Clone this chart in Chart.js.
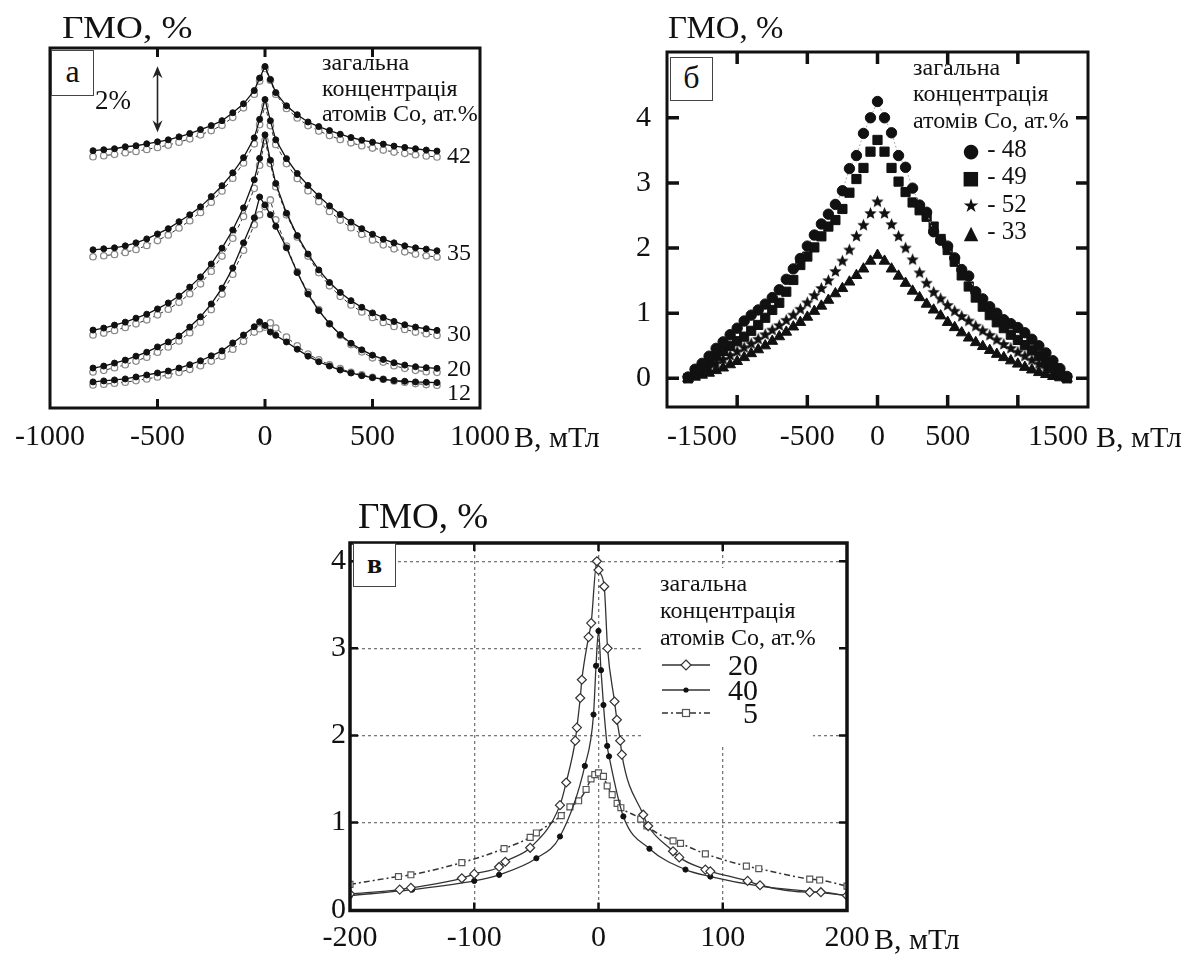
<!DOCTYPE html>
<html>
<head>
<meta charset="utf-8">
<title>ГМО</title>
<script src="https://cdn.jsdelivr.net/npm/chart.js"></script>
<style>
  body { margin: 0; background: #fff; }
  .page { position: relative; width: 1204px; height: 958px; overflow: hidden;
          font-family: 'Liberation Serif', 'Times New Roman', serif; color: #111; }
  canvas { position: absolute; }
  .t { position: absolute; white-space: nowrap; line-height: 1; transform: translateY(-50%); }
  .ttl { font-size: 31px; transform: translateY(-50%) scaleX(1.2); transform-origin: left center; }
  .leg { font-size: 24px; }
  .num { font-size: 24px; }
  .axn { font-size: 30px; }
  .lbl { position: absolute; border: 1px solid #444; background: #fff; text-align: center; }
  .sym { font-family: 'DejaVu Sans', sans-serif; font-size: 19px; display: inline-block; width: 20px; text-align: center; }
</style>
</head>
<body>
<div class="page">
  <canvas id="chartA" width="600" height="470" style="left:0;top:0"></canvas>
  <canvas id="chartB" width="604" height="470" style="left:600px;top:0"></canvas>
  <canvas id="chartC" width="660" height="458" style="left:280px;top:500px"></canvas>

  <!-- панель а -->
  <div class="t ttl" style="left:62px;top:27px">ГМО, %</div>
  <div class="lbl" style="left:51px;top:50px;width:41px;height:44px;font-size:32px;line-height:40px">а</div>
  <div class="t" style="left:95px;top:100px;font-size:27px">2%</div>
  <div class="t leg" style="left:322px;top:62px">загальна</div>
  <div class="t leg" style="left:322px;top:88px">концентрація</div>
  <div class="t leg" style="left:322px;top:113px">атомів Co, ат.%</div>
  <div class="t num" style="left:447px;top:155px">42</div>
  <div class="t num" style="left:447px;top:252px">35</div>
  <div class="t num" style="left:447px;top:333px">30</div>
  <div class="t num" style="left:447px;top:368px">20</div>
  <div class="t num" style="left:447px;top:392px">12</div>
  <div class="t axn" style="left:514px;top:437px">В, мТл</div>

  <!-- панель б -->
  <div class="t ttl" style="left:668px;top:27px;transform:translateY(-50%) scaleX(1.06)">ГМО, %</div>
  <div class="lbl" style="left:670px;top:57px;width:41px;height:42px;font-size:32px;line-height:38px">б</div>
  <div class="t leg" style="left:913px;top:67px">загальна</div>
  <div class="t leg" style="left:913px;top:93px">концентрація</div>
  <div class="t leg" style="left:913px;top:120px">атомів Co, ат.%</div>
  <div class="t num" style="left:961px;top:148px;font-size:25px"><span class="sym">●</span> - 48</div>
  <div class="t num" style="left:961px;top:175px;font-size:25px"><span class="sym">■</span> - 49</div>
  <div class="t num" style="left:961px;top:203px;font-size:25px"><span class="sym">★</span> - 52</div>
  <div class="t num" style="left:961px;top:230px;font-size:25px"><span class="sym">▲</span> - 33</div>
  <div class="t axn" style="left:1096px;top:437px">В, мТл</div>

  <!-- панель в -->
  <div class="t ttl" style="left:358px;top:516px;font-size:35px;transform:translateY(-50%) scaleX(1.06)">ГМО, %</div>
  <div class="lbl" style="left:353px;top:543px;width:41px;height:42px;font-size:28px;line-height:40px;font-weight:bold">в</div>
  <div class="t leg" style="left:660px;top:583px">загальна</div>
  <div class="t leg" style="left:660px;top:610px">концентрація</div>
  <div class="t leg" style="left:660px;top:637px">атомів Co, ат.%</div>
  <svg style="position:absolute;left:660px;top:650px" width="55" height="75">
    <line x1="2" y1="15" x2="50" y2="15" stroke="#333" stroke-width="1.3"/>
    <path d="M26 10 L31 15 L26 20 L21 15 Z" fill="#fff" stroke="#333" stroke-width="1.2"/>
    <line x1="2" y1="40" x2="50" y2="40" stroke="#333" stroke-width="1.3"/>
    <circle cx="26" cy="40" r="2.6" fill="#111"/>
    <line x1="2" y1="63" x2="50" y2="63" stroke="#333" stroke-width="1.5" stroke-dasharray="6 3 2 3"/>
    <rect x="22.5" y="59.5" width="7" height="7" fill="#fff" stroke="#555" stroke-width="1.2"/>
  </svg>
  <div class="t axn" style="left:728px;top:665px">20</div>
  <div class="t axn" style="left:728px;top:690px">40</div>
  <div class="t axn" style="left:743px;top:713px">5</div>
  <div class="t axn" style="left:874px;top:939px">В, мТл</div>
</div>

<script>
//------------------------------------------------------------------------------
// дані: панель а (криві зсунуті по вертикалі, одиниця осі y = 1 %)
//------------------------------------------------------------------------------
var xA = [-800, -750, -700, -650, -600, -550, -500, -450, -400, -350, -300, -250, -200, -150, -100, -50, -25,
          0, 25, 50, 100, 150, 200, 250, 300, 350, 400, 450, 500, 550, 600, 650, 700, 750, 800];
var xTicksA = [-1000, -500, 0, 500, 1000];

var a42f = [7.79, 7.82, 7.85, 7.91, 7.94, 8.00, 8.06, 8.12, 8.21, 8.31, 8.43, 8.55, 8.70, 8.94, 9.21, 9.61, 9.99,
            10.34, 9.95, 9.55, 9.15, 8.88, 8.66, 8.52, 8.40, 8.29, 8.19, 8.11, 8.05, 7.99, 7.93, 7.89, 7.85, 7.81, 7.78];
var a42o = [7.61, 7.64, 7.68, 7.73, 7.77, 7.83, 7.89, 7.96, 8.05, 8.15, 8.27, 8.40, 8.56, 8.80, 9.09, 9.50, 9.90,
            10.28, 9.92, 9.50, 9.07, 8.78, 8.55, 8.39, 8.25, 8.13, 8.03, 7.94, 7.87, 7.81, 7.75, 7.71, 7.67, 7.63, 7.60];
var a35f = [4.79, 4.82, 4.85, 4.91, 5.00, 5.12, 5.27, 5.43, 5.64, 5.85, 6.09, 6.40, 6.73, 7.12, 7.58, 8.18, 8.74,
            9.34, 8.70, 8.12, 7.55, 7.10, 6.74, 6.42, 6.12, 5.86, 5.63, 5.43, 5.26, 5.11, 5.00, 4.91, 4.85, 4.81, 4.76];
var a35o = [4.58, 4.61, 4.65, 4.71, 4.80, 4.92, 5.07, 5.24, 5.45, 5.67, 5.92, 6.23, 6.57, 6.96, 7.42, 8.00, 8.58,
            9.15, 8.55, 7.98, 7.40, 6.95, 6.58, 6.25, 5.95, 5.69, 5.46, 5.26, 5.09, 4.94, 4.82, 4.73, 4.66, 4.61, 4.57];
var a30f = [2.36, 2.42, 2.51, 2.60, 2.72, 2.84, 3.00, 3.18, 3.39, 3.66, 3.97, 4.36, 4.84, 5.39, 6.06, 6.91, 7.56,
            8.27, 7.50, 6.80, 5.90, 5.22, 4.66, 4.18, 3.80, 3.50, 3.25, 3.05, 2.88, 2.74, 2.62, 2.52, 2.45, 2.40, 2.35];
var a30o = [2.21, 2.27, 2.35, 2.44, 2.55, 2.67, 2.82, 2.99, 3.20, 3.46, 3.76, 4.14, 4.60, 5.14, 5.80, 6.65, 7.35,
            8.10, 7.40, 6.70, 5.85, 5.18, 4.60, 4.10, 3.70, 3.38, 3.12, 2.91, 2.74, 2.59, 2.47, 2.38, 2.30, 2.25, 2.20];
var a20f = [1.21, 1.27, 1.36, 1.45, 1.57, 1.69, 1.85, 2.00, 2.18, 2.45, 2.76, 3.15, 3.63, 4.24, 5.00, 5.76, 6.39,
            6.15, 5.85, 5.50, 4.85, 4.10, 3.45, 2.95, 2.55, 2.22, 1.96, 1.76, 1.60, 1.47, 1.37, 1.30, 1.25, 1.22, 1.20];
var a20o = [1.09, 1.14, 1.22, 1.31, 1.42, 1.54, 1.69, 1.85, 2.03, 2.28, 2.60, 2.98, 3.45, 4.05, 4.78, 5.55, 5.85,
            6.10, 6.30, 5.70, 4.90, 4.12, 3.50, 2.98, 2.55, 2.20, 1.92, 1.70, 1.52, 1.39, 1.28, 1.20, 1.14, 1.10, 1.08];
var a12f = [0.79, 0.82, 0.85, 0.88, 0.94, 1.00, 1.06, 1.12, 1.21, 1.31, 1.43, 1.58, 1.73, 1.97, 2.21, 2.46, 2.61,
            2.50, 2.30, 2.20, 2.00, 1.78, 1.57, 1.40, 1.27, 1.15, 1.06, 0.98, 0.92, 0.87, 0.83, 0.81, 0.79, 0.78, 0.77];
var a12o = [0.70, 0.72, 0.75, 0.78, 0.83, 0.88, 0.94, 1.00, 1.08, 1.17, 1.28, 1.42, 1.57, 1.78, 2.02, 2.30, 2.40,
            2.45, 2.58, 2.42, 2.15, 1.88, 1.63, 1.46, 1.31, 1.19, 1.08, 1.00, 0.93, 0.87, 0.82, 0.78, 0.74, 0.71, 0.69];

//------------------------------------------------------------------------------
// дані: панель б
//------------------------------------------------------------------------------
var xB = [-1350, -1300, -1250, -1200, -1150, -1100, -1050, -1000, -950, -900, -850, -800, -750, -700, -650, -600,
          -550, -500, -450, -400, -350, -300, -250, -200, -150, -100, -50, 0, 50, 100, 150, 200, 250, 300, 350, 400,
          450, 500, 550, 600, 650, 700, 750, 800, 850, 900, 950, 1000, 1050, 1100, 1150, 1200, 1250, 1300, 1350];
var xTicksB = [-1500, -500, 0, 500, 1500];
var xMarksB = [-1000, -500, 0, 500, 1000];
var yTicksB = [0, 1, 2, 3, 4];

var b48 = [0.02, 0.14, 0.23, 0.34, 0.46, 0.56, 0.67, 0.77, 0.88, 0.97, 1.05, 1.14, 1.24, 1.36, 1.52, 1.68, 1.84, 2.03,
           2.20, 2.37, 2.52, 2.67, 2.88, 3.22, 3.42, 3.76, 4.00, 4.25, 4.00, 3.77, 3.42, 3.24, 2.92, 2.66, 2.55, 2.25,
           2.12, 2.03, 1.85, 1.67, 1.57, 1.33, 1.22, 1.10, 1.00, 0.90, 0.84, 0.78, 0.70, 0.60, 0.50, 0.39, 0.27, 0.15, 0.03];
var b49 = [0.00, 0.07, 0.16, 0.26, 0.34, 0.42, 0.50, 0.57, 0.64, 0.73, 0.82, 0.93, 1.05, 1.16, 1.33, 1.51, 1.74, 1.87,
           2.01, 2.18, 2.33, 2.43, 2.60, 2.85, 3.06, 3.23, 3.48, 3.66, 3.48, 3.23, 3.02, 2.86, 2.70, 2.58, 2.48, 2.33,
           2.14, 1.97, 1.79, 1.58, 1.41, 1.24, 1.10, 0.97, 0.86, 0.77, 0.67, 0.59, 0.51, 0.43, 0.34, 0.25, 0.16, 0.07, 0.00];
var b52 = [0.00, 0.05, 0.11, 0.17, 0.23, 0.29, 0.35, 0.41, 0.47, 0.53, 0.60, 0.67, 0.74, 0.81, 0.89, 0.97, 1.06, 1.16,
           1.27, 1.38, 1.50, 1.64, 1.80, 1.97, 2.18, 2.35, 2.53, 2.71, 2.53, 2.36, 2.18, 2.00, 1.82, 1.62, 1.46, 1.32,
           1.22, 1.12, 1.03, 0.95, 0.88, 0.80, 0.73, 0.66, 0.59, 0.52, 0.46, 0.40, 0.34, 0.28, 0.22, 0.16, 0.10, 0.05, 0.00];
var b33 = [0.00, 0.02, 0.05, 0.08, 0.12, 0.16, 0.21, 0.26, 0.32, 0.38, 0.44, 0.50, 0.57, 0.64, 0.71, 0.79, 0.86, 0.94,
           1.03, 1.11, 1.20, 1.30, 1.38, 1.48, 1.58, 1.68, 1.80, 1.89, 1.80, 1.68, 1.57, 1.46, 1.34, 1.24, 1.14, 1.05,
           0.96, 0.86, 0.78, 0.70, 0.62, 0.55, 0.49, 0.43, 0.37, 0.32, 0.27, 0.22, 0.17, 0.13, 0.09, 0.06, 0.03, 0.01, 0.00];

//------------------------------------------------------------------------------
// дані: панель в
//------------------------------------------------------------------------------
var xTicksC = [-200, -100, 0, 100, 200];
var yTicksC = [0, 1, 2, 3, 4];

var c20x = [-200, -160, -151, -110, -100, -80, -75, -55, -31, -26, -18.7, -17.4, -14.7, -13.4, -8, -5.9, -1.3, 0,
            4.6, 7.3, 12.9, 14.8, 17.5, 18.8, 36, 40, 60, 65, 86, 90, 120, 130, 170, 179, 200];
var c20y = [0.18, 0.23, 0.25, 0.36, 0.41, 0.49, 0.55, 0.71, 1.20, 1.46, 1.94, 2.09, 2.43, 2.64, 3.13, 3.29, 4.00, 3.90,
            3.71, 3.00, 2.39, 2.18, 1.94, 1.78, 1.09, 0.96, 0.67, 0.60, 0.46, 0.44, 0.33, 0.28, 0.20, 0.20, 0.16];
var c40x = [-200, -150, -100, -80, -50, -31, -11, -4, -2, 0, 2, 4, 7, 8.5, 20, 41, 70, 90, 130, 170, 200];
var c40y = [0.16, 0.23, 0.33, 0.40, 0.59, 0.84, 1.65, 2.24, 2.80, 3.20, 2.75, 2.35, 1.88, 1.76, 1.07, 0.70, 0.46,
            0.38, 0.27, 0.21, 0.16];
var c5x = [-200, -161, -151, -110, -76, -55, -50, -30, -23, -16, -10, -6, -3, 0, 4, 7, 11, 15, 18, 34, 39, 60, 66,
           86, 119, 129, 170, 178, 200];
var c5y = [0.29, 0.38, 0.40, 0.54, 0.70, 0.83, 0.88, 1.08, 1.18, 1.25, 1.38, 1.50, 1.55, 1.57, 1.53, 1.42, 1.32, 1.22,
           1.17, 1.04, 0.96, 0.79, 0.76, 0.64, 0.50, 0.47, 0.35, 0.34, 0.27];

//------------------------------------------------------------------------------
// загальні налаштування
//------------------------------------------------------------------------------
Chart.defaults.font.family = "'Liberation Serif', 'Times New Roman', serif";
Chart.defaults.color = '#111';
Chart.defaults.animation = false;

function pts(xs, ys) {
  return xs.map(function (x, i) { return { x: x, y: ys[i] }; });
}

function setTicks(list) {
  return function (scale) { scale.ticks = list.map(function (v) { return { value: v }; }); };
}

// підписи без роздільника тисяч
function plain(v) { return String(v); }

// рамка, внутрішні риски, двобічна стрілка масштабу, білі плями під легендою
var framePlugin = {
  id: 'frame',
  beforeDatasetsDraw: function (chart, args, o) {
    var ctx = chart.ctx;
    ctx.save();
    ctx.fillStyle = '#fff';
    (o.blank || []).forEach(function (r) { ctx.fillRect(r[0], r[1], r[2], r[3]); });
    ctx.restore();
  },
  afterDraw: function (chart, args, o) {
    var ctx = chart.ctx, a = chart.chartArea, sx = chart.scales.x, sy = chart.scales.y;
    var L = o.tickLen;
    ctx.save();
    ctx.strokeStyle = '#111';
    ctx.lineWidth = o.width;
    ctx.strokeRect(a.left, a.top, a.right - a.left, a.bottom - a.top);
    ctx.lineWidth = o.tickWidth;
    ctx.beginPath();
    (o.xMarks || []).forEach(function (v) {
      var p = sx.getPixelForValue(v);
      ctx.moveTo(p, a.bottom); ctx.lineTo(p, a.bottom - L);
      ctx.moveTo(p, a.top); ctx.lineTo(p, a.top + L);
    });
    (o.yMarks || []).forEach(function (v) {
      var p = sy.getPixelForValue(v);
      ctx.moveTo(a.left, p); ctx.lineTo(a.left + L, p);
      ctx.moveTo(a.right, p); ctx.lineTo(a.right - L, p);
    });
    ctx.stroke();
    if (o.arrow) {
      var ax = sx.getPixelForValue(o.arrow.x);
      var y1 = sy.getPixelForValue(o.arrow.from), y2 = sy.getPixelForValue(o.arrow.to);
      ctx.strokeStyle = '#222';
      ctx.fillStyle = '#222';
      ctx.lineWidth = 1.6;
      ctx.beginPath(); ctx.moveTo(ax, y1 - 4); ctx.lineTo(ax, y2 + 4); ctx.stroke();
      ctx.beginPath(); ctx.moveTo(ax, y2); ctx.lineTo(ax - 5, y2 + 12); ctx.lineTo(ax, y2 + 8); ctx.lineTo(ax + 5, y2 + 12); ctx.fill();
      ctx.beginPath(); ctx.moveTo(ax, y1); ctx.lineTo(ax - 5, y1 - 12); ctx.lineTo(ax, y1 - 8); ctx.lineTo(ax + 5, y1 - 12); ctx.fill();
    }
    ctx.restore();
  }
};

// залита п'ятикутна зірка для маркерів
function starImage(r) {
  var c = document.createElement('canvas');
  c.width = c.height = 2 * r + 2;
  var g = c.getContext('2d');
  g.fillStyle = '#111';
  g.beginPath();
  for (var i = 0; i < 10; i++) {
    var rad = i % 2 ? r * 0.45 : r;
    var ang = -Math.PI / 2 + i * Math.PI / 5;
    g.lineTo(r + 1 + rad * Math.cos(ang), r + 1 + rad * Math.sin(ang));
  }
  g.closePath();
  g.fill();
  return c;
}

var tickFont = { size: 30 };

//------------------------------------------------------------------------------
// панель а
//------------------------------------------------------------------------------
function filledSet(ys) {
  return { data: pts(xA, ys), showLine: true, borderColor: '#111', borderWidth: 1.3,
           pointRadius: 3, pointBackgroundColor: '#111', pointBorderColor: '#111', pointBorderWidth: 1 };
}
function openSet(ys) {
  return { data: pts(xA, ys), showLine: true, borderColor: '#333', borderWidth: 1, borderDash: [4, 3],
           pointRadius: 3.2, pointBackgroundColor: '#fff', pointBorderColor: '#8a8a8a', pointBorderWidth: 1.3 };
}

new Chart(document.getElementById('chartA'), {
  type: 'scatter',
  data: {
    datasets: [
      filledSet(a42f), openSet(a42o),
      filledSet(a35f), openSet(a35o),
      filledSet(a30f), openSet(a30o),
      filledSet(a20f), openSet(a20o),
      filledSet(a12f), openSet(a12o)
    ]
  },
  options: {
    responsive: false,
    layout: { padding: { left: 50, right: 120, top: 48, bottom: 0 } },
    plugins: {
      legend: { display: false },
      tooltip: { enabled: false },
      frame: { width: 3, tickWidth: 3, tickLen: 9, xMarks: [-500, 0, 500], arrow: { x: -500, from: 8.35, to: 10.35 } }
    },
    scales: {
      x: {
        type: 'linear', min: -1000, max: 1000,
        afterBuildTicks: setTicks(xTicksA),
        afterFit: function (s) { s.height = 62; },
        grid: { display: false, drawTicks: false },
        border: { display: false },
        ticks: { font: tickFont, padding: 11, maxRotation: 0, autoSkip: false, callback: plain }
      },
      y: { display: false, min: 0, max: 10.9 }
    }
  },
  plugins: [framePlugin]
});

//------------------------------------------------------------------------------
// панель б
//------------------------------------------------------------------------------
function markSet(ys, style, r) {
  return { data: pts(xB, ys), pointStyle: style, pointRadius: r,
           pointBackgroundColor: '#111', pointBorderColor: '#111', pointBorderWidth: 1 };
}

var b48set = markSet(b48, 'circle', 5.2);
b48set.showLine = true;
b48set.borderColor = '#aaa';
b48set.borderWidth = 1;
b48set.borderDash = [2, 2];

new Chart(document.getElementById('chartB'), {
  type: 'scatter',
  data: {
    datasets: [
      b48set,
      markSet(b49, 'rect', 6.5),
      markSet(b52, starImage(6.5), 6),
      markSet(b33, 'triangle', 6.2)
    ]
  },
  options: {
    responsive: false,
    layout: { padding: { left: 0, right: 116, top: 52, bottom: 0 } },
    plugins: {
      legend: { display: false },
      tooltip: { enabled: false },
      frame: { width: 3, tickWidth: 3.5, tickLen: 12, xMarks: xMarksB, yMarks: yTicksB }
    },
    scales: {
      x: {
        type: 'linear', min: -1500, max: 1500,
        afterBuildTicks: setTicks(xTicksB),
        afterFit: function (s) { s.height = 63; },
        grid: { display: false, drawTicks: false },
        border: { display: false },
        ticks: { font: tickFont, padding: 12, maxRotation: 0, autoSkip: false, align: 'inner', callback: plain }
      },
      y: {
        type: 'linear', min: -0.44, max: 5.01,
        afterBuildTicks: setTicks(yTicksB),
        afterFit: function (s) { s.width = 67; },
        grid: { display: false, drawTicks: false },
        border: { display: false },
        ticks: { font: tickFont, padding: 16, callback: plain }
      }
    }
  },
  plugins: [framePlugin]
});

//------------------------------------------------------------------------------
// панель в
//------------------------------------------------------------------------------
new Chart(document.getElementById('chartC'), {
  type: 'scatter',
  data: {
    datasets: [
      { data: pts(c20x, c20y), showLine: true, cubicInterpolationMode: 'monotone',
        borderColor: '#333', borderWidth: 1.3,
        pointStyle: 'rectRot', pointRadius: 4.5, pointBackgroundColor: '#fff', pointBorderColor: '#333', pointBorderWidth: 1.2 },
      { data: pts(c40x, c40y), showLine: true, cubicInterpolationMode: 'monotone',
        borderColor: '#333', borderWidth: 1.3,
        pointRadius: 2.6, pointBackgroundColor: '#111', pointBorderColor: '#111', pointBorderWidth: 1 },
      { data: pts(c5x, c5y), showLine: true, cubicInterpolationMode: 'monotone',
        borderColor: '#333', borderWidth: 1.5, borderDash: [6, 3, 2, 3],
        pointStyle: 'rect', pointRadius: 4.2, pointBackgroundColor: '#fff', pointBorderColor: '#555', pointBorderWidth: 1.2 }
    ]
  },
  options: {
    responsive: false,
    layout: { padding: { left: 0, right: 93, top: 43, bottom: 0 } },
    plugins: {
      legend: { display: false },
      tooltip: { enabled: false },
      frame: { width: 3.5, tickWidth: 2.5, tickLen: 8, xMarks: [-100, 0, 100], yMarks: [1, 2, 3, 4],
               blank: [[363, 68, 170, 176], [533, 68, 34, 132]] }
    },
    scales: {
      x: {
        type: 'linear', min: -200, max: 200,
        afterBuildTicks: setTicks(xTicksC),
        afterFit: function (s) { s.height = 47.5; },
        grid: { color: '#777', lineWidth: 1.3, drawTicks: false },
        border: { display: false, dash: [3, 3] },
        ticks: { font: tickFont, padding: 10, maxRotation: 0, autoSkip: false, callback: plain }
      },
      y: {
        type: 'linear', min: -0.01, max: 4.21,
        afterBuildTicks: setTicks(yTicksC),
        afterFit: function (s) { s.width = 70; },
        grid: { color: '#777', lineWidth: 1.3, drawTicks: false },
        border: { display: false, dash: [3, 3] },
        ticks: { font: tickFont, padding: 4, callback: plain }
      }
    }
  },
  plugins: [framePlugin]
});
</script>
</body>
</html>
